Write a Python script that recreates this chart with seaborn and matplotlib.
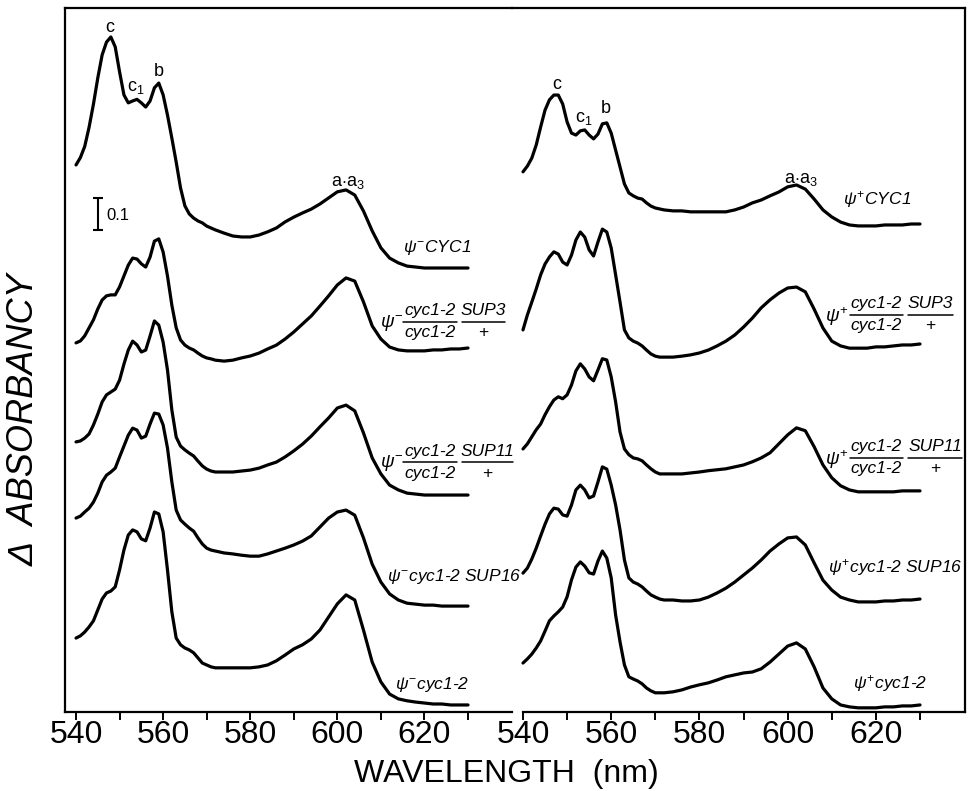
import numpy as np
import pandas as pd
import matplotlib
matplotlib.use("Agg")
import matplotlib.pyplot as plt
import seaborn as sns

# wavelength grid (nm) the traces were read at
wavelength = np.concatenate([np.arange(540, 573), np.arange(574, 631, 2)])

# difference spectra, delta A relative to the 630 nm end of each trace
# left panel: psi-minus strains
m_CYC1 = [0.322, 0.345, 0.380, 0.440, 0.512, 0.594, 0.666, 0.706, 0.722, 0.691,
          0.613, 0.541, 0.516, 0.522, 0.527, 0.516, 0.503, 0.522, 0.563, 0.578,
          0.541, 0.478, 0.406, 0.331, 0.250, 0.194, 0.169, 0.156, 0.147, 0.141,
          0.131, 0.125, 0.119,
          0.109, 0.100, 0.097, 0.097, 0.103, 0.113, 0.125, 0.144, 0.159, 0.172,
          0.184, 0.200, 0.219, 0.238, 0.244, 0.228, 0.178, 0.116, 0.063, 0.031,
          0.016, 0.006, 0.003, 0, 0, 0, 0, 0, 0]
m_SUP3 = [0.016, 0.022, 0.038, 0.063, 0.088, 0.122, 0.150, 0.163, 0.166, 0.166,
          0.191, 0.225, 0.259, 0.281, 0.278, 0.263, 0.253, 0.284, 0.334, 0.341,
          0.300, 0.225, 0.134, 0.063, 0.025, 0.009, 0.000, -0.006, -0.016, -0.025,
          -0.031, -0.034, -0.038,
          -0.041, -0.038, -0.031, -0.025, -0.016, -0.003, 0.009, 0.028, 0.050, 0.075,
          0.100, 0.131, 0.163, 0.197, 0.219, 0.209, 0.144, 0.069, 0.028, 0.003,
          -0.006, -0.009, -0.009, -0.009, -0.006, -0.006, -0.003, -0.003, 0]
m_SUP11 = [0.166, 0.169, 0.178, 0.191, 0.219, 0.253, 0.291, 0.313, 0.322, 0.331,
           0.359, 0.409, 0.453, 0.481, 0.469, 0.447, 0.453, 0.497, 0.544, 0.531,
           0.478, 0.391, 0.266, 0.181, 0.153, 0.141, 0.131, 0.122, 0.106, 0.091,
           0.081, 0.075, 0.072,
           0.072, 0.072, 0.075, 0.078, 0.084, 0.094, 0.103, 0.119, 0.138, 0.159,
           0.184, 0.213, 0.241, 0.272, 0.281, 0.263, 0.194, 0.116, 0.066, 0.031,
           0.016, 0.006, 0.003, 0, 0, 0, 0, 0, 0]
m_SUP16 = [0.275, 0.281, 0.294, 0.306, 0.325, 0.353, 0.388, 0.409, 0.419, 0.431,
           0.466, 0.500, 0.534, 0.556, 0.550, 0.525, 0.531, 0.569, 0.603, 0.600,
           0.566, 0.494, 0.388, 0.300, 0.269, 0.256, 0.244, 0.234, 0.213, 0.194,
           0.181, 0.175, 0.172,
           0.166, 0.163, 0.159, 0.156, 0.156, 0.163, 0.172, 0.181, 0.191, 0.203,
           0.219, 0.247, 0.275, 0.294, 0.300, 0.284, 0.213, 0.131, 0.075, 0.038,
           0.019, 0.009, 0.006, 0.003, 0.003, 0, 0, 0, 0]
m_cyc12 = [0.209, 0.216, 0.228, 0.244, 0.263, 0.297, 0.331, 0.350, 0.356, 0.369,
           0.422, 0.484, 0.531, 0.547, 0.541, 0.519, 0.513, 0.553, 0.603, 0.597,
           0.541, 0.422, 0.291, 0.209, 0.188, 0.178, 0.172, 0.163, 0.147, 0.131,
           0.125, 0.119, 0.116,
           0.116, 0.116, 0.116, 0.116, 0.119, 0.125, 0.138, 0.156, 0.175, 0.188,
           0.206, 0.234, 0.275, 0.316, 0.344, 0.328, 0.234, 0.134, 0.072, 0.034,
           0.019, 0.013, 0.009, 0.006, 0.003, 0.003, 0, 0, 0]

# right panel: psi-plus strains
p_CYC1 = [0.163, 0.181, 0.206, 0.247, 0.303, 0.356, 0.388, 0.403, 0.403, 0.375,
          0.319, 0.284, 0.278, 0.291, 0.294, 0.278, 0.266, 0.281, 0.313, 0.316,
          0.284, 0.231, 0.178, 0.125, 0.097, 0.088, 0.081, 0.078, 0.066, 0.056,
          0.050, 0.047, 0.044,
          0.041, 0.041, 0.038, 0.038, 0.038, 0.038, 0.038, 0.044, 0.053, 0.066,
          0.075, 0.088, 0.100, 0.116, 0.122, 0.109, 0.078, 0.044, 0.022, 0.006,
          -0.003, -0.006, -0.006, -0.006, -0.003, -0.003, -0.003, 0, 0]
p_SUP3 = [0.044, 0.091, 0.131, 0.172, 0.216, 0.250, 0.272, 0.288, 0.281, 0.256,
          0.247, 0.278, 0.325, 0.350, 0.334, 0.294, 0.275, 0.319, 0.359, 0.350,
          0.300, 0.216, 0.131, 0.044, 0.019, 0.009, 0.003, -0.006, -0.019, -0.031,
          -0.038, -0.041, -0.041,
          -0.041, -0.038, -0.034, -0.028, -0.019, -0.006, 0.009, 0.028, 0.053, 0.081,
          0.113, 0.138, 0.159, 0.175, 0.178, 0.163, 0.109, 0.050, 0.009, -0.006,
          -0.013, -0.013, -0.013, -0.009, -0.009, -0.006, -0.003, -0.003, 0]
p_SUP11 = [0.131, 0.147, 0.169, 0.191, 0.209, 0.238, 0.263, 0.284, 0.294, 0.288,
           0.300, 0.331, 0.375, 0.397, 0.381, 0.356, 0.344, 0.378, 0.413, 0.409,
           0.356, 0.278, 0.184, 0.131, 0.113, 0.103, 0.100, 0.094, 0.081, 0.069,
           0.059, 0.053, 0.053,
           0.053, 0.053, 0.056, 0.059, 0.063, 0.066, 0.069, 0.075, 0.081, 0.091,
           0.103, 0.119, 0.147, 0.175, 0.197, 0.188, 0.138, 0.081, 0.041, 0.016,
           0.003, -0.003, -0.003, -0.003, -0.003, -0.003, 0, 0, 0]
p_SUP16 = [0.081, 0.097, 0.125, 0.159, 0.197, 0.234, 0.266, 0.284, 0.281, 0.263,
           0.259, 0.294, 0.341, 0.356, 0.341, 0.316, 0.322, 0.366, 0.413, 0.406,
           0.356, 0.294, 0.216, 0.122, 0.066, 0.053, 0.047, 0.038, 0.025, 0.013,
           0.006, 0, -0.003,
           -0.003, -0.006, -0.006, -0.003, 0.006, 0.019, 0.034, 0.053, 0.075, 0.097,
           0.122, 0.150, 0.172, 0.191, 0.194, 0.169, 0.113, 0.059, 0.028, 0.006,
           -0.003, -0.009, -0.009, -0.009, -0.006, -0.006, -0.003, -0.003, 0]
p_cyc12 = [0.131, 0.144, 0.159, 0.178, 0.200, 0.231, 0.263, 0.278, 0.291, 0.306,
           0.338, 0.391, 0.431, 0.447, 0.434, 0.413, 0.409, 0.450, 0.481, 0.459,
           0.397, 0.281, 0.197, 0.125, 0.088, 0.081, 0.075, 0.066, 0.053, 0.044,
           0.038, 0.038, 0.038,
           0.041, 0.047, 0.056, 0.063, 0.069, 0.078, 0.088, 0.094, 0.100, 0.103,
           0.113, 0.134, 0.159, 0.184, 0.194, 0.175, 0.119, 0.053, 0.019, 0,
           -0.006, -0.009, -0.009, -0.009, -0.006, -0.006, -0.003, -0.003, 0]

traces_minus = [m_CYC1, m_SUP3, m_SUP11, m_SUP16, m_cyc12]
traces_plus = [p_CYC1, p_SUP3, p_SUP11, p_SUP16, p_cyc12]
trace_names = ["CYC1", "SUP3", "SUP11", "SUP16", "cyc1-2"]
# vertical displacement of each trace in the stack (absorbance units)
offsets_minus = [1.3875, 1.1375, 0.678, 0.331, 0.022]
offsets_plus = [1.525, 1.15, 0.691, 0.353, 0.022]

tick_pos = list(range(540, 631, 10))
tick_lab = ["540", "", "560", "", "580", "", "600", "", "620", ""]


def stack(traces, offsets):
    frames = []
    for name, vals, off in zip(trace_names, traces, offsets):
        frames.append(pd.DataFrame({"nm": wavelength, "trace": name,
                                    "y": np.array(vals) + off}))
    return pd.concat(frames, ignore_index=True)


def frac_label(ax, x_psi, y_bar, sign, num_span, sup_span, sup, fs=12.5):
    d = 0.011
    ax.text(x_psi, y_bar - 0.004, r"$\psi^{%s}$" % sign, ha="left", va="center", fontsize=fs + 1)
    for (a, b), top, bottom in [(num_span, "cyc1-2", "cyc1-2"), (sup_span, sup, "+")]:
        c = (a + b) / 2
        ax.text(c, y_bar + d, top, ha="center", va="bottom", fontsize=fs, style="italic")
        ax.text(c, y_bar - d, bottom, ha="center", va="top", fontsize=fs,
                style="italic" if bottom != "+" else "normal")
        ax.plot([a, b], [y_bar, y_bar], color="black", lw=1.1, clip_on=False)


sns.set_style("white")
plt.rcParams["font.family"] = ["Liberation Sans", "DejaVu Sans"]
plt.rcParams["mathtext.fontset"] = "custom"
plt.rcParams["mathtext.rm"] = "Liberation Sans"
plt.rcParams["mathtext.it"] = "Liberation Sans:italic"
plt.rcParams["text.color"] = "black"
plt.rcParams["xtick.color"] = "black"

fig = plt.figure(figsize=(9.69, 7.91), dpi=100)
axL = fig.add_axes([65 / 969, 1 - 712 / 791, 447 / 969, 704 / 791])
axR = fig.add_axes([512 / 969, 1 - 712 / 791, 453 / 969, 704 / 791])
axR.set_facecolor("none")

for ax, traces, offsets in [(axL, traces_minus, offsets_minus), (axR, traces_plus, offsets_plus)]:
    sns.lineplot(data=stack(traces, offsets), x="nm", y="y", units="trace", estimator=None,
                 color="black", linewidth=2.3, legend=False, ax=ax,
                 solid_joinstyle="round", solid_capstyle="round")
    ax.set_ylim(0, 2.2)
    ax.set_yticks([])
    ax.set_xlabel("")
    ax.set_ylabel("")
    ax.set_xticks(tick_pos, tick_lab, fontsize=23)
    ax.tick_params(axis="x", bottom=True, direction="out", length=6, width=1.4, pad=0,
                   color="black", labelcolor="black")
    for s in ax.spines.values():
        s.set_linewidth(1.6)
        s.set_color("black")

axL.set_xlim(537.47, 640.1)
axR.set_xlim(537.51, 640.2)
axL.spines["right"].set_visible(False)
axR.spines["left"].set_visible(False)
axR.spines["bottom"].set_bounds(540, 640.2)

# peak annotations
for ax, pts in [(axL, [(547.8, 2.14, "c"), (553.8, 1.953, "c$_1$"), (559.1, 2.0, "b"),
                       (602.4, 1.656, "a$\\cdot$a$_3$")]),
                (axR, [(547.6, 1.962, "c"), (553.7, 1.856, "c$_1$"), (558.8, 1.887, "b"),
                       (603.0, 1.665, "a$\\cdot$a$_3$")])]:
    for x, y, t in pts:
        ax.text(x, y, t, ha="center", va="center", fontsize=13)

# 0.1 absorbance scale bar
axL.errorbar(545.1, 1.556, yerr=0.05, color="black", capsize=3.5, lw=1.5, capthick=1.5)
axL.text(547.0, 1.553, "0.1", ha="left", va="center", fontsize=12)

# strain labels
axL.text(615.1, 1.453, r"$\psi^{-}$CYC1", ha="left", va="center", fontsize=12.5, style="italic")
frac_label(axL, 609.9, 1.219, "-", (615.1, 627.5), (628.6, 638.5), "SUP3")
frac_label(axL, 609.9, 0.781, "-", (615.1, 627.5), (628.6, 640.3), "SUP11")
axL.text(611.4, 0.422, r"$\psi^{-}$cyc1-2 SUP16", ha="left", va="center", fontsize=12.5, style="italic")
axL.text(613.2, 0.0875, r"$\psi^{-}$cyc1-2", ha="left", va="center", fontsize=12.5, style="italic")

axR.text(612.6, 1.600, r"$\psi^{+}$CYC1", ha="left", va="center", fontsize=12.5, style="italic")
frac_label(axR, 608.5, 1.241, "+", (614.1, 626.2), (627.3, 637.5), "SUP3")
frac_label(axR, 608.5, 0.794, "+", (614.1, 626.2), (627.3, 639.5), "SUP11")
axR.text(609.2, 0.450, r"$\psi^{+}$cyc1-2 SUP16", ha="left", va="center", fontsize=12.5, style="italic")
axR.text(614.8, 0.0875, r"$\psi^{+}$cyc1-2", ha="left", va="center", fontsize=12.5, style="italic")

fig.text(506 / 969, 1 - 774 / 791, "WAVELENGTH  (nm)", ha="center", va="center", fontsize=23)
fig.text(24 / 969, 1 - 420 / 791, "\u0394  ABSORBANCY", ha="center", va="center", rotation=90,
         fontsize=26, style="italic")

fig.savefig("out.png", dpi=100)
